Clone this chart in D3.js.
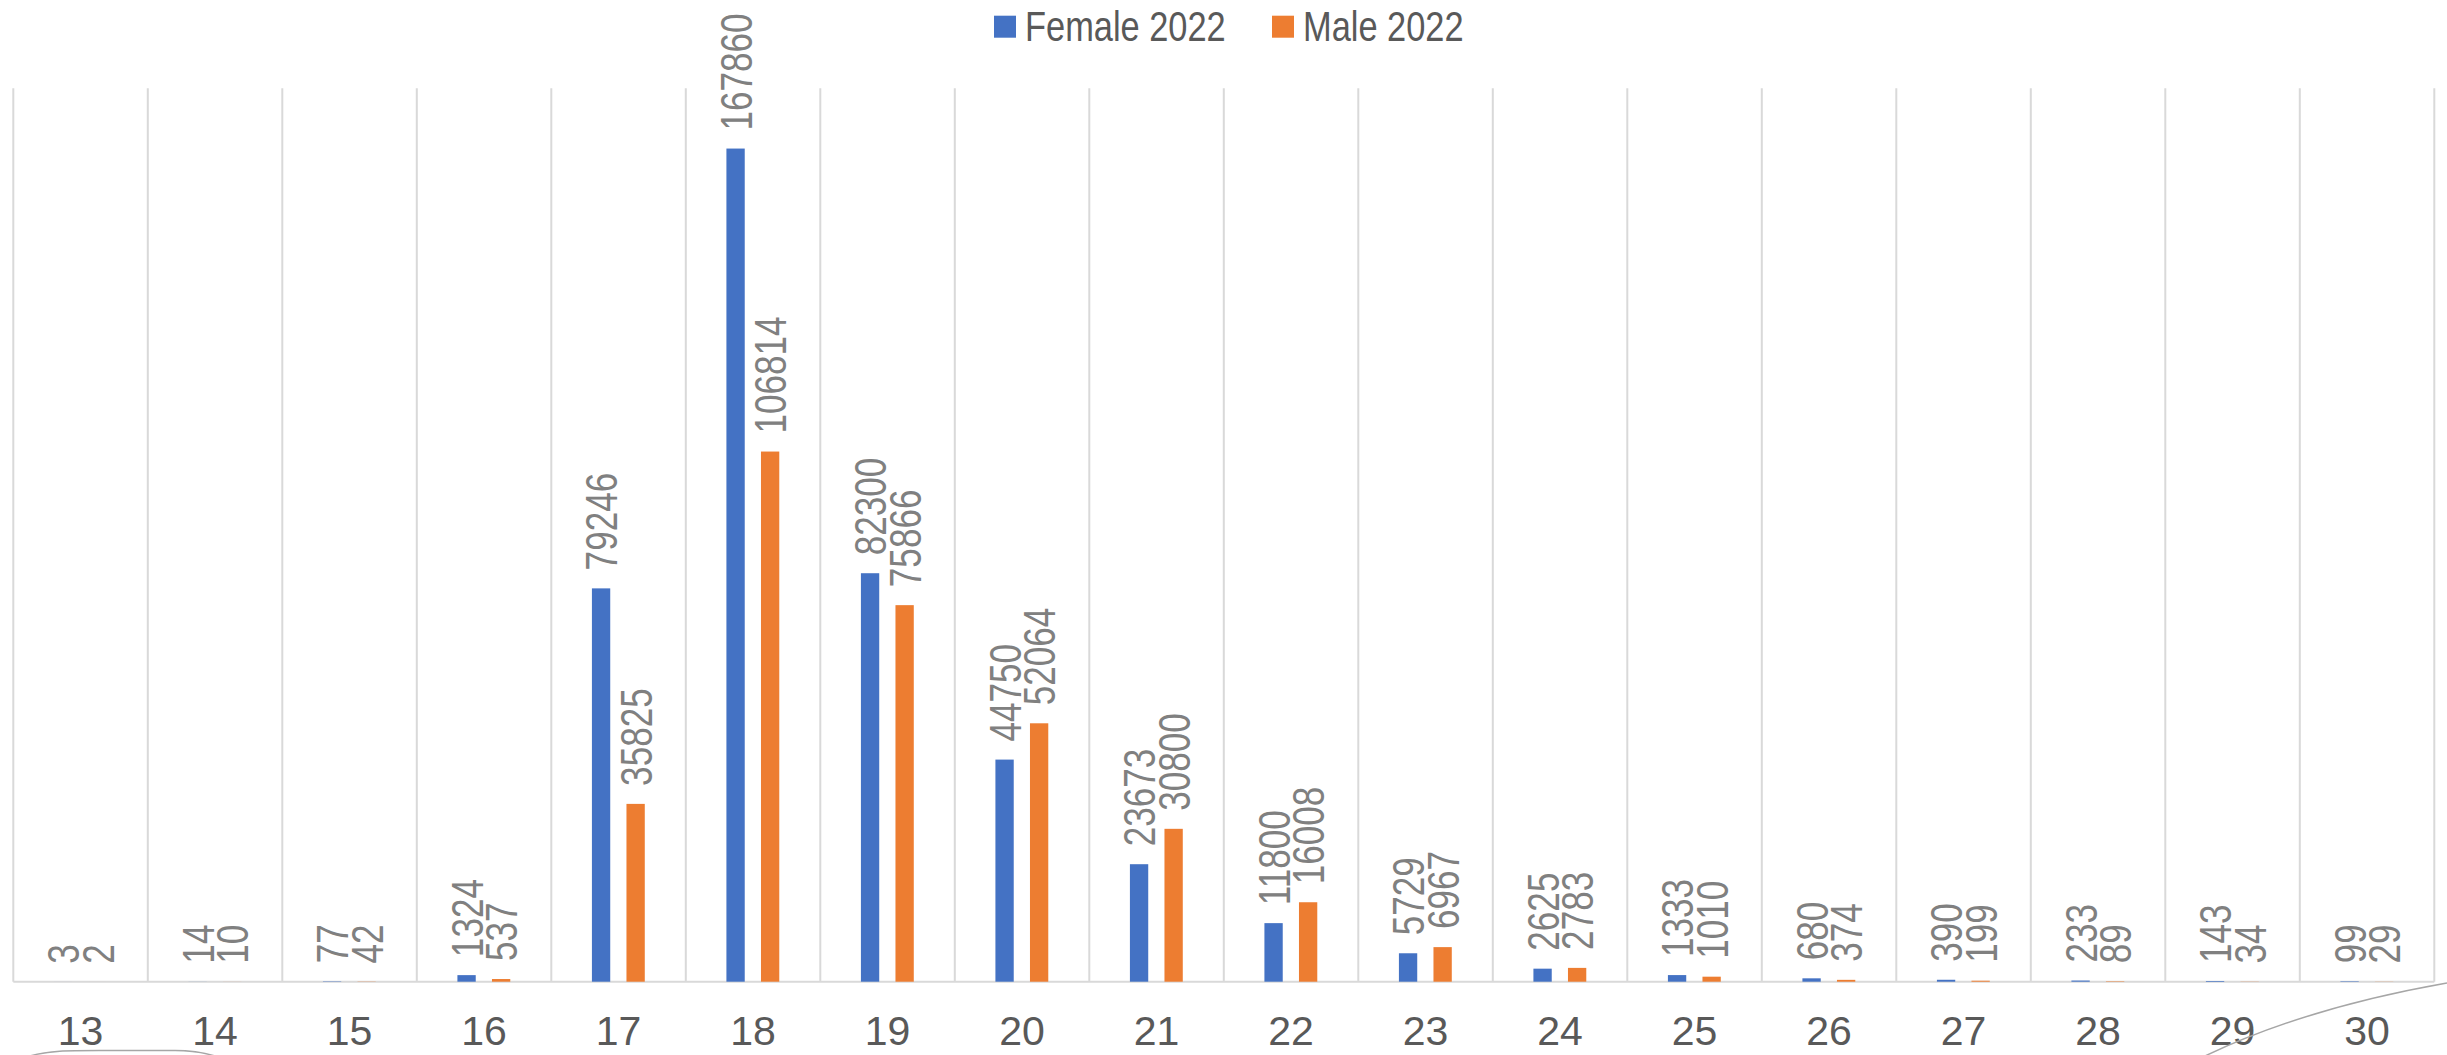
<!DOCTYPE html>
<html lang="en">
	<head>
		<meta charset="utf-8">
		<title>Female / Male 2022 by age</title>
		<script type="text/javascript" src="https://cdn.jsdelivr.net/npm/d3@7"></script>
		<style type="text/css">
			body { margin: 0; background: #fff; }
			svg { display: block; }
			text { font-family: "Liberation Sans", Arial, sans-serif; }
		</style>
	</head>
	<body>
		<script type="text/javascript">

		// data
		var ages = ["13","14","15","16","17","18","19","20","21","22","23","24","25","26","27","28","29","30"];
		var female2022 = [3, 14, 77, 1324, 79246, 167860, 82300, 44750, 23673, 11800, 5729, 2625, 1333, 680, 390, 233, 143, 99];
		var male2022 = [2, 10, 42, 537, 35825, 106814, 75866, 52064, 30800, 16008, 6967, 2783, 1010, 374, 199, 89, 34, 29];
		var seriesNames = ["Female 2022", "Male 2022"];
		var seriesColors = ["#4472C4", "#ED7D31"];
		var yMax = 180000;

		var w = 2447, h = 1055;
		// plot box (note: "top" is taken by window.top, so prefix everything)
		var plotLeft = 13.3, plotRight = 2434.3, plotTop = 88.3, plotBottom = 981.7;
		var gridColor = "#d9d9d9", labelColor = "#808080", axisColor = "#595959";

		var svg = d3.select("body")
				.append("svg")
				.attr("width", w)
				.attr("height", h);

		var x = d3.scaleBand()
				.domain(ages)
				.range([plotLeft, plotRight]);

		var bw = x.bandwidth();
		var xSub = d3.scaleBand()
				.domain([0, 1])
				.range([bw * 0.302, bw * 0.695])
				.paddingInner(0.47);

		var y = d3.scaleLinear()
				.domain([0, yMax])
				.range([plotBottom, plotTop]);

		// vertical grid lines at category boundaries
		var bounds = ages.map(function(a){ return x(a); }).concat([plotRight]);
		svg.append("g")
			.selectAll("line")
			.data(bounds)
			.enter()
			.append("line")
			.attr("x1", function(d){ return d; })
			.attr("x2", function(d){ return d; })
			.attr("y1", plotTop)
			.attr("y2", plotBottom)
			.attr("stroke", gridColor)
			.attr("stroke-width", 2);

		// base line
		svg.append("line")
			.attr("x1", plotLeft)
			.attr("x2", plotRight)
			.attr("y1", plotBottom)
			.attr("y2", plotBottom)
			.attr("stroke", gridColor)
			.attr("stroke-width", 2);

		var rows = [];
		ages.forEach(function(a, i){
			rows.push({age: a, s: 0, v: female2022[i]});
			rows.push({age: a, s: 1, v: male2022[i]});
		});

		svg.append("g")
			.selectAll("rect")
			.data(rows)
			.enter()
			.append("rect")
			.attr("x", function(d){ return x(d.age) + xSub(d.s); })
			.attr("y", function(d){ return y(d.v); })
			.attr("width", xSub.bandwidth())
			.attr("height", function(d){ return plotBottom - y(d.v); })
			.attr("fill", function(d){ return seriesColors[d.s]; });

		// rotated value labels
		var lblSize = 45;
		svg.append("g")
			.selectAll("text")
			.data(rows)
			.enter()
			.append("text")
			.text(function(d){ return d.v; })
			.attr("transform", function(d){
				var cx = x(d.age) + xSub(d.s) + xSub.bandwidth() / 2 + lblSize * 0.358;
				var cy = y(d.v) - 18;
				return "translate(" + cx + "," + cy + ") rotate(-90) scale(0.78,1)";
			})
			.attr("font-size", lblSize + "px")
			.attr("fill", labelColor);

		// category axis
		var xAxis = svg.append("g")
			.attr("transform", "translate(0," + plotBottom + ")")
			.call(d3.axisBottom(x).tickSize(0).tickPadding(0));
		xAxis.select(".domain").remove();
		xAxis.selectAll("text")
			.attr("y", 63.8)
			.attr("dy", null)
			.attr("font-size", "41px")
			.attr("fill", axisColor);

		// legend
		var legX = [994, 1272];
		var leg = svg.append("g")
			.selectAll("g")
			.data(seriesNames)
			.enter()
			.append("g")
			.attr("transform", function(d, i){ return "translate(" + legX[i] + ",0)"; });
		leg.append("rect")
			.attr("x", 0)
			.attr("y", 15.7)
			.attr("width", 22)
			.attr("height", 22)
			.attr("fill", function(d, i){ return seriesColors[i]; });
		leg.append("text")
			.text(function(d){ return d; })
			.attr("transform", "translate(31,40.7) scale(0.8,1)")
			.attr("font-size", "43px")
			.attr("fill", axisColor);

		// stray grey strokes at the bottom corners of the picture
		svg.append("path")
			.attr("d", "M30,1056 C50,1050 70,1050.5 110,1050.5 L175,1050.5 C195,1050.5 205,1053 215,1056")
			.attr("fill", "none")
			.attr("stroke", "#a6a6a6")
			.attr("stroke-width", 1.5);
		svg.append("path")
			.attr("d", "M2205,1056 C2270,1025 2350,1000 2447,983")
			.attr("fill", "none")
			.attr("stroke", "#a6a6a6")
			.attr("stroke-width", 1.5);
		</script>
	</body>
</html>
